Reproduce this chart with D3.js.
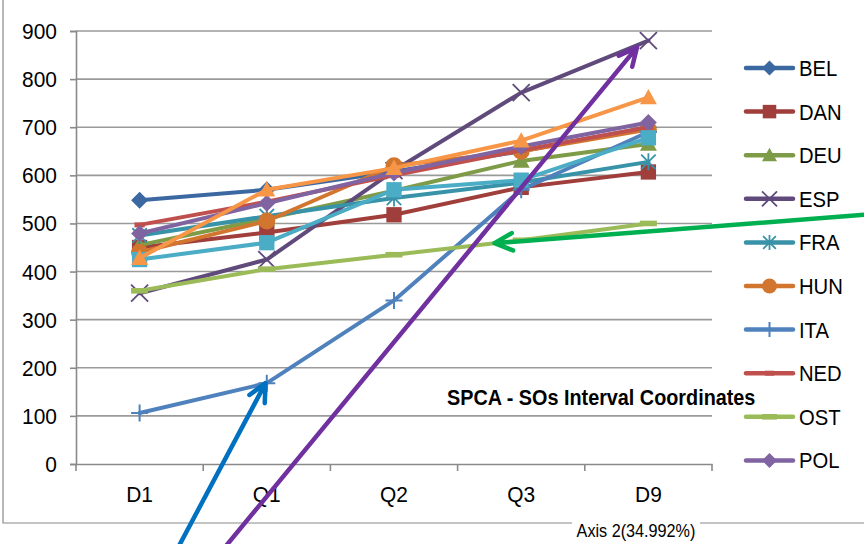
<!DOCTYPE html>
<html>
<head>
<meta charset="utf-8">
<script src="https://cdn.jsdelivr.net/npm/d3@7"></script>
<style>
  body { margin: 0; background: #ffffff; }
  svg { display: block; }
  text { font-family: "Liberation Sans", Arial, sans-serif; fill: #000; }
</style>
</head>
<body>
<svg id="chart" width="864" height="544"></svg>
<script>
// Category axis and value ticks
const categories = ["D1", "Q1", "Q2", "Q3", "D9"];
const yTicks = [0, 100, 200, 300, 400, 500, 600, 700, 800, 900];

// Interval coordinates per country (D1, Q1, Q2, Q3, D9)
const BEL = [548, 570, 608, 650, 700];
const DAN = [450, 481, 518, 575, 607];
const DEU = [455, 510, 568, 630, 665];
const ESP = [355, 425, 610, 772, 880];
const FRA = [475, 515, 553, 585, 628];
const HUN = [440, 505, 620, 650, 695];
const ITA = [106, 168, 340, 570, 690];
const NED = [497, 545, 600, 652, 700];
const OST = [360, 405, 435, 465, 500];
const POL = [479, 542, 605, 660, 710];
const POR = [425, 460, 570, 590, 678];
const SVE = [428, 570, 615, 672, 762];

const seriesNames = ["BEL", "DAN", "DEU", "ESP", "FRA", "HUN", "ITA", "NED", "OST", "POL", "POR", "SVE"];
const seriesValues = [BEL, DAN, DEU, ESP, FRA, HUN, ITA, NED, OST, POL, POR, SVE];
const seriesColors = ["#3C68A2", "#A03E3B", "#7E9B47", "#5F4A7B", "#3892A8", "#D2762F",
                      "#4F81BD", "#C0504D", "#9BBB59", "#8064A2", "#4BACC6", "#F79646"];
const seriesMarkers = ["diamond", "square", "triangle", "x", "asterisk", "circle",
                       "plus", "dash", "longdash", "diamond", "square", "triangle"];
const legendCount = 10;

const title = "SPCA - SOs Interval Coordinates";
const axisTitle = "Axis 2(34.992%)";

// Call-out arrows: [category position, value] for tail and tip
const arrowTails = [[0.31, -170], [0.68, -170], [5.7, 518]];
const arrowTips = [[0.99, 168], [3.91, 866], [2.79, 459]];
const arrowColors = ["#0070C0", "#7030A0", "#00B050"];

const svg = d3.select("#chart");
const plot = { left: 76, right: 712, top: 31, bottom: 464 };

const x = d3.scaleBand().domain(categories).range([plot.left, plot.right]).padding(0);
const xc = c => x(c) + x.bandwidth() / 2;
const xi = d3.scaleLinear().domain([-0.5, categories.length - 0.5]).range([plot.left, plot.right]);
const y = d3.scaleLinear().domain([0, 900]).range([plot.bottom, plot.top]);

// Text with condensed glyph width
function label(g, px, py, s, size, anchor, weight, sx) {
  return g.append("text")
    .attr("transform", `translate(${px},${py}) scale(${sx},1)`)
    .attr("text-anchor", anchor || "start")
    .attr("font-size", size)
    .attr("font-weight", weight || "normal")
    .text(s);
}

// Outer frame
svg.append("path")
  .attr("d", `M3,0 V523 H864`)
  .attr("fill", "none").attr("stroke", "#8A8A8A").attr("stroke-width", 1.2);

// Gridlines
svg.append("g").selectAll("line").data(yTicks.filter(t => t > 0)).join("line")
  .attr("x1", plot.left).attr("x2", plot.right)
  .attr("y1", d => y(d)).attr("y2", d => y(d))
  .attr("stroke", "#9A9A9A").attr("stroke-width", 1.6);

// Value axis
const yAxis = svg.append("g").attr("transform", `translate(${plot.left},0)`)
  .call(d3.axisLeft(y).tickValues(yTicks).tickSize(6).tickFormat(""));
yAxis.select(".domain").attr("stroke", "#8A8A8A").attr("stroke-width", 1.6);
yAxis.selectAll(".tick line").attr("stroke", "#8A8A8A").attr("stroke-width", 1.6);
const yLab = svg.append("g");
yTicks.forEach(t => label(yLab, 57, y(t) + 8, String(t), 22.5, "end", "normal", 0.93));

// Category axis
const xAxisG = svg.append("g").attr("transform", `translate(0,${plot.bottom})`)
  .call(d3.axisBottom(x).tickSize(0).tickFormat(""));
xAxisG.select(".domain").attr("stroke", "#8A8A8A").attr("stroke-width", 1.6);
const bounds = categories.map(c => x(c)).concat([plot.right]);
svg.append("g").selectAll("line").data(bounds).join("line")
  .attr("x1", d => d).attr("x2", d => d)
  .attr("y1", plot.bottom).attr("y2", plot.bottom + 7)
  .attr("stroke", "#8A8A8A").attr("stroke-width", 1.6);
const xLab = svg.append("g");
categories.forEach(c => label(xLab, xc(c), plot.bottom + 38, c, 22.5, "middle", "normal", 0.93));

// Axis title over the frame
const at = svg.append("g");
at.append("rect").attr("x", 572).attr("y", 515).attr("width", 128).attr("height", 22).attr("fill", "#fff");
label(at, 636, 537, axisTitle, 18, "middle", "normal", 0.9);

// Marker shapes
function marker(g, type, cx, cy, color, s) {
  const h = s / 2;
  switch (type) {
    case "diamond":
      g.append("path").attr("d", `M${cx},${cy - h} L${cx + h},${cy} L${cx},${cy + h} L${cx - h},${cy} Z`).attr("fill", color);
      break;
    case "square":
      g.append("rect").attr("x", cx - h * 0.9).attr("y", cy - h * 0.9).attr("width", s * 0.9).attr("height", s * 0.9).attr("fill", color);
      break;
    case "triangle":
      g.append("path").attr("d", `M${cx},${cy - h} L${cx + h},${cy + h * 0.8} L${cx - h},${cy + h * 0.8} Z`).attr("fill", color);
      break;
    case "circle":
      g.append("circle").attr("cx", cx).attr("cy", cy).attr("r", h).attr("fill", color);
      break;
    case "x":
      g.append("path").attr("d", `M${cx - h},${cy - h} L${cx + h},${cy + h} M${cx - h},${cy + h} L${cx + h},${cy - h}`)
        .attr("stroke", color).attr("stroke-width", 1.8).attr("fill", "none");
      break;
    case "asterisk":
      g.append("path").attr("d", `M${cx - h * 0.85},${cy - h * 0.85} L${cx + h * 0.85},${cy + h * 0.85} M${cx - h * 0.85},${cy + h * 0.85} L${cx + h * 0.85},${cy - h * 0.85} M${cx},${cy - h} L${cx},${cy + h}`)
        .attr("stroke", color).attr("stroke-width", 1.8).attr("fill", "none");
      break;
    case "plus":
      g.append("path").attr("d", `M${cx - h},${cy} L${cx + h},${cy} M${cx},${cy - h} L${cx},${cy + h}`)
        .attr("stroke", color).attr("stroke-width", 2).attr("fill", "none");
      break;
    case "dash":
      g.append("rect").attr("x", cx - h * 0.6).attr("y", cy - 2.5).attr("width", s * 0.6).attr("height", 5).attr("fill", color);
      break;
    case "longdash":
      g.append("rect").attr("x", cx - h).attr("y", cy - 2.8).attr("width", s).attr("height", 5.6).attr("fill", color);
      break;
  }
}

// Series lines and markers
const line = d3.line().x((d, i) => xc(categories[i])).y(d => y(d));
const seriesG = svg.append("g");
seriesValues.forEach((vals, si) => {
  const g = seriesG.append("g");
  g.append("path").datum(vals).attr("d", line)
    .attr("fill", "none").attr("stroke", seriesColors[si]).attr("stroke-width", 4)
    .attr("stroke-linejoin", "round").attr("stroke-linecap", "round");
  vals.forEach((v, i) => marker(g, seriesMarkers[si], xc(categories[i]), y(v), seriesColors[si], 17));
});

// Legend
const lg = svg.append("g");
seriesNames.slice(0, legendCount).forEach((name, i) => {
  const ly = 68 + i * 43.6;
  lg.append("line").attr("x1", 746).attr("x2", 793).attr("y1", ly).attr("y2", ly)
    .attr("stroke", seriesColors[i]).attr("stroke-width", 4.5).attr("stroke-linecap", "round");
  marker(lg, seriesMarkers[i], 769.5, ly, seriesColors[i], 15);
  label(lg, 799, ly + 8, name, 22.5, "start", "normal", 0.9);
});

// Title
label(svg.append("g"), 447, 405, title, 22.5, "start", "bold", 0.88);

// Call-out arrows
const ag = svg.append("g");
arrowTips.forEach((tip, i) => {
  const t0 = [xi(arrowTails[i][0]), y(arrowTails[i][1])];
  const t1 = [xi(tip[0]), y(tip[1])];
  const ang = Math.atan2(t1[1] - t0[1], t1[0] - t0[0]);
  const len = 20, spread = 0.45;
  const a1 = [t1[0] - len * Math.cos(ang - spread), t1[1] - len * Math.sin(ang - spread)];
  const a2 = [t1[0] - len * Math.cos(ang + spread), t1[1] - len * Math.sin(ang + spread)];
  ag.append("path")
    .attr("d", `M${t0[0]},${t0[1]} L${t1[0]},${t1[1]} M${a1[0]},${a1[1]} L${t1[0]},${t1[1]} L${a2[0]},${a2[1]}`)
    .attr("fill", "none").attr("stroke", arrowColors[i]).attr("stroke-width", 4.5)
    .attr("stroke-linecap", "round").attr("stroke-linejoin", "round");
});
</script>
</body>
</html>
